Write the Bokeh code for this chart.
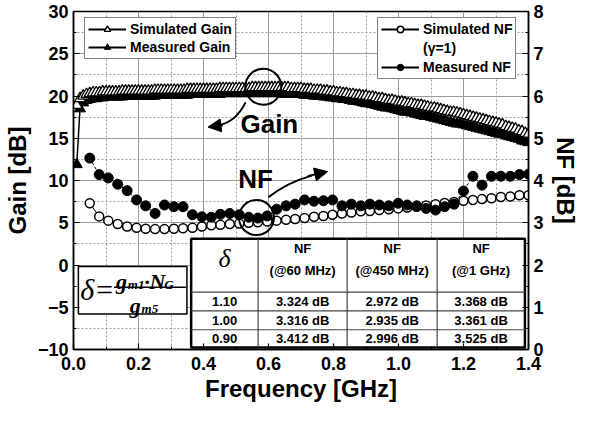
from bokeh.plotting import figure
from bokeh.models import (Range1d, LinearAxis, FixedTicker, SingleIntervalTicker, PrintfTickFormatter,
                          Legend, LegendItem, Arrow, NormalHead)
from bokeh.core.properties import value
from bokeh.embed import file_html
from bokeh.resources import INLINE

# ---------------- data ----------------
freq_gain = [0.01, 0.02, 0.03, 0.04, 0.05, 0.06, 0.07, 0.08, 0.09, 0.10,
             0.11, 0.12, 0.13, 0.14, 0.15, 0.16, 0.17, 0.18, 0.19, 0.20,
             0.21, 0.22, 0.23, 0.24, 0.25, 0.26, 0.27, 0.28, 0.29, 0.30,
             0.31, 0.32, 0.33, 0.34, 0.35, 0.36, 0.37, 0.38, 0.39, 0.40,
             0.41, 0.42, 0.43, 0.44, 0.45, 0.46, 0.47, 0.48, 0.49, 0.50,
             0.51, 0.52, 0.53, 0.54, 0.55, 0.56, 0.57, 0.58, 0.59, 0.60,
             0.61, 0.62, 0.63, 0.64, 0.65, 0.66, 0.67, 0.68, 0.69, 0.70,
             0.71, 0.72, 0.73, 0.74, 0.75, 0.76, 0.77, 0.78, 0.79, 0.80,
             0.81, 0.82, 0.83, 0.84, 0.85, 0.86, 0.87, 0.88, 0.89, 0.90,
             0.91, 0.92, 0.93, 0.94, 0.95, 0.96, 0.97, 0.98, 0.99, 1.00,
             1.01, 1.02, 1.03, 1.04, 1.05, 1.06, 1.07, 1.08, 1.09, 1.10,
             1.11, 1.12, 1.13, 1.14, 1.15, 1.16, 1.17, 1.18, 1.19, 1.20,
             1.21, 1.22, 1.23, 1.24, 1.25, 1.26, 1.27, 1.28, 1.29, 1.30,
             1.31, 1.32, 1.33, 1.34, 1.35, 1.36, 1.37, 1.38, 1.39, 1.40]
sim_gain = [18.9, 19.7, 20.0, 20.2, 20.3, 20.4, 20.4, 20.4, 20.5, 20.5,
            20.5, 20.5, 20.5, 20.5, 20.6, 20.6, 20.6, 20.6, 20.6, 20.6,
            20.6, 20.6, 20.6, 20.6, 20.7, 20.7, 20.7, 20.7, 20.7, 20.7,
            20.7, 20.7, 20.7, 20.7, 20.8, 20.8, 20.8, 20.8, 20.8, 20.8,
            20.8, 20.8, 20.8, 20.8, 20.9, 20.9, 20.9, 20.9, 20.9, 20.9,
            20.9, 20.9, 20.9, 20.9, 21.0, 21.0, 21.0, 21.0, 21.0, 21.0,
            21.0, 21.0, 21.0, 21.0, 21.0, 21.0, 20.9, 20.9, 20.9, 20.9,
            20.8, 20.8, 20.8, 20.7, 20.7, 20.7, 20.6, 20.6, 20.5, 20.5,
            20.4, 20.4, 20.3, 20.3, 20.2, 20.2, 20.1, 20.1, 20.0, 20.0,
            19.9, 19.9, 19.8, 19.7, 19.7, 19.6, 19.5, 19.5, 19.4, 19.3,
            19.3, 19.2, 19.1, 19.1, 19.0, 18.9, 18.9, 18.8, 18.7, 18.6,
            18.6, 18.5, 18.4, 18.3, 18.2, 18.1, 18.1, 18.0, 17.9, 17.8,
            17.7, 17.6, 17.5, 17.4, 17.3, 17.2, 17.1, 17.0, 16.9, 16.8,
            16.7, 16.6, 16.4, 16.3, 16.2, 16.1, 15.9, 15.8, 15.6, 15.5]
meas_gain = [11.9, 18.5, 19.2, 19.5, 19.6, 19.7, 19.7, 19.8, 19.8, 19.9,
             19.9, 19.9, 19.9, 19.9, 19.9, 20.0, 20.0, 20.0, 20.0, 20.0,
             20.0, 20.0, 20.0, 20.0, 20.0, 20.1, 20.1, 20.1, 20.1, 20.1,
             20.1, 20.1, 20.1, 20.1, 20.1, 20.2, 20.2, 20.2, 20.2, 20.2,
             20.2, 20.2, 20.2, 20.2, 20.2, 20.3, 20.3, 20.3, 20.3, 20.3,
             20.3, 20.3, 20.3, 20.3, 20.3, 20.3, 20.3, 20.3, 20.3, 20.3,
             20.3, 20.3, 20.3, 20.3, 20.2, 20.2, 20.2, 20.2, 20.2, 20.2,
             20.1, 20.1, 20.1, 20.0, 20.0, 20.0, 19.9, 19.9, 19.8, 19.8,
             19.7, 19.7, 19.6, 19.6, 19.5, 19.4, 19.4, 19.3, 19.2, 19.1,
             19.1, 19.0, 18.9, 18.8, 18.7, 18.6, 18.6, 18.5, 18.4, 18.3,
             18.2, 18.1, 18.1, 18.0, 17.9, 17.8, 17.7, 17.6, 17.6, 17.5,
             17.4, 17.3, 17.2, 17.1, 17.0, 16.9, 16.8, 16.7, 16.7, 16.6,
             16.5, 16.4, 16.3, 16.2, 16.1, 16.0, 15.9, 15.8, 15.7, 15.6,
             15.5, 15.5, 15.3, 15.2, 15.1, 15.0, 14.9, 14.7, 14.6, 14.5]

freq_nf = [0.050, 0.079, 0.107, 0.136, 0.165, 0.194, 0.222, 0.251, 0.280, 0.309,
           0.337, 0.366, 0.395, 0.424, 0.452, 0.481, 0.510, 0.539, 0.567, 0.596,
           0.625, 0.654, 0.682, 0.711, 0.740, 0.769, 0.797, 0.826, 0.855, 0.884,
           0.912, 0.941, 0.970, 0.999, 1.027, 1.056, 1.085, 1.114, 1.142, 1.171,
           1.200, 1.229, 1.257, 1.286, 1.315, 1.344, 1.372, 1.400]
sim_nf = [3.46, 3.15, 3.05, 2.97, 2.91, 2.88, 2.86, 2.85, 2.85, 2.86,
          2.87, 2.88, 2.91, 2.94, 2.95, 2.97, 2.98, 3.00, 3.01, 3.03,
          3.05, 3.07, 3.09, 3.11, 3.14, 3.16, 3.19, 3.22, 3.24, 3.27,
          3.28, 3.30, 3.32, 3.34, 3.36, 3.38, 3.41, 3.44, 3.47, 3.49,
          3.52, 3.54, 3.56, 3.58, 3.61, 3.62, 3.65, 3.65]
meas_nf = [4.53, 4.14, 4.06, 3.91, 3.76, 3.54, 3.40, 3.22, 3.42, 3.38,
           3.38, 3.19, 3.14, 3.13, 3.20, 3.22, 3.19, 3.13, 3.11, 3.16,
           3.32, 3.40, 3.44, 3.54, 3.51, 3.52, 3.54, 3.40, 3.44, 3.40,
           3.44, 3.42, 3.40, 3.46, 3.42, 3.40, 3.34, 3.30, 3.38, 3.44,
           3.75, 4.10, 3.89, 4.10, 4.10, 4.10, 4.14, 4.15]

x_ticks = [0.0, 0.2, 0.4, 0.6, 0.8, 1.0, 1.2, 1.4]
x_minor = [0.1, 0.3, 0.5, 0.7, 0.9, 1.1, 1.3]

table_delta = ["1.10", "1.00", "0.90"]
table_head = ["(@60 MHz)", "(@450 MHz)", "(@1 GHz)"]
table_nf60 = ["3.324 dB", "3.316 dB", "3.412 dB"]
table_nf450 = ["2.972 dB", "2.935 dB", "2.996 dB"]
table_nf1g = ["3.368 dB", "3.361 dB", "3.525 dB"]

SANS = value("Liberation Sans")
SERIF = value("Liberation Serif")

# ---------------- figure ----------------
p = figure(width=581, height=405, x_range=Range1d(0, 1.4), y_range=Range1d(-10, 30),
           output_backend="svg", toolbar_location=None,
           min_border_left=73, min_border_right=48, min_border_top=11, min_border_bottom=56)
p.extra_y_ranges = {"nf": Range1d(0, 8)}

p.outline_line_color = "black"
p.outline_line_width = 1.5
p.background_fill_color = "white"

p.xaxis.ticker = FixedTicker(ticks=x_ticks, minor_ticks=x_minor)
p.xaxis.formatter = PrintfTickFormatter(format="%.1f")
p.yaxis.ticker = SingleIntervalTicker(interval=5, num_minor_ticks=2)
p.xaxis.axis_label = "Frequency [GHz]"
p.yaxis.axis_label = "Gain [dB]"

nf_axis = LinearAxis(y_range_name="nf", axis_label="NF [dB]",
                     ticker=SingleIntervalTicker(interval=1, num_minor_ticks=2))
p.add_layout(nf_axis, "right")

for ax in [p.xaxis[0], p.yaxis[0], nf_axis]:
    ax.axis_line_width = 1.5
    ax.axis_line_color = "black"
    ax.major_tick_in = 6
    ax.major_tick_out = 0
    ax.minor_tick_in = 3
    ax.minor_tick_out = 0
    ax.major_tick_line_width = 1.2
    ax.major_label_text_font = "Liberation Sans"
    ax.major_label_text_font_style = "bold"
    ax.major_label_text_font_size = "18px"
    ax.major_label_text_color = "black"
    ax.axis_label_text_font = "Liberation Sans"
    ax.axis_label_text_font_style = "bold"
    ax.axis_label_text_font_size = "24px"
    ax.axis_label_text_color = "black"
    ax.major_label_standoff = 5
    ax.axis_label_standoff = 4
p.xaxis.major_label_standoff = 7
p.xaxis.axis_label_standoff = 2
nf_axis.axis_label_standoff = 5

for g in [p.xgrid[0], p.ygrid[0]]:
    g.grid_line_color = "#9a9a9a"
    g.grid_line_width = 1
    g.minor_grid_line_color = "#9a9a9a"
    g.minor_grid_line_dash = "2 2"

# ---------------- data glyphs ----------------
p.line(freq_gain, meas_gain, line_color="black", line_width=1.5)
mg_pts = p.scatter(freq_gain, meas_gain, marker="triangle", size=11,
                   fill_color="black", line_color="black")
p.line(freq_gain, sim_gain, line_color="black", line_width=1.5)
sg_pts = p.scatter(freq_gain, sim_gain, marker="triangle", size=11,
                   fill_color="white", line_color="black", line_width=1.3)

p.line(freq_nf, sim_nf, y_range_name="nf", line_color="black", line_width=1)
sn_pts = p.scatter(freq_nf, sim_nf, y_range_name="nf", marker="circle", size=9,
                   fill_color="white", line_color="black", line_width=1.5)
p.line(freq_nf, meas_nf, y_range_name="nf", line_color="black", line_width=1,
       line_dash="3 2")
mn_pts = p.scatter(freq_nf, meas_nf, y_range_name="nf", marker="circle", size=10,
                   fill_color="black", line_color="black")

# single-point lines: draw nothing in the plot, give a solid line sample in the legends
lg_line = p.line(freq_nf[:1], sim_nf[:1], y_range_name="nf", line_color="black", line_width=2)
lg_blank = p.line(freq_nf[:1], sim_nf[:1], y_range_name="nf", line_alpha=0)

# ---------------- legends ----------------
def style_legend(lg):
    lg.label_text_font = "Liberation Sans"
    lg.label_text_font_style = "bold"
    lg.label_text_font_size = "14px"
    lg.label_text_color = "black"
    lg.glyph_width = 38
    lg.glyph_height = 16
    lg.label_height = 16
    lg.label_standoff = 4
    lg.padding = 3
    lg.spacing = 2
    lg.margin = 0
    lg.border_line_color = "black"
    lg.border_line_width = 1
    lg.background_fill_alpha = 1

leg1 = Legend(items=[LegendItem(label="Simulated Gain", renderers=[lg_line, sg_pts]),
                     LegendItem(label="Measured Gain", renderers=[lg_line, mg_pts])],
              location=(11, 290))
style_legend(leg1)
p.add_layout(leg1)

leg2 = Legend(items=[LegendItem(label="Simulated NF", renderers=[lg_line, sn_pts]),
                     LegendItem(label="(\u03b3=1)", renderers=[lg_blank]),
                     LegendItem(label="Measured NF", renderers=[lg_line, mn_pts])],
              location=(304, 270))
style_legend(leg2)
leg2.spacing = 3
p.add_layout(leg2)

# ---------------- annotations: circles, arrows, labels ----------------
p.scatter([0.584], [21.1], marker="circle", size=36, fill_alpha=0,
          line_color="black", line_width=2)
p.scatter([0.563], [5.61], marker="circle", size=35, fill_alpha=0,
          line_color="black", line_width=2)

p.quadratic(x0=[0.5295], y0=[19.24], x1=[0.447], y1=[16.55], cx=[0.499], cy=[16.90],
            line_color="black", line_width=2)
p.add_layout(Arrow(end=NormalHead(size=13, fill_color="black", line_color="black"),
                   x_start=0.4595, y_start=16.55, x_end=0.414, y_end=16.32,
                   line_width=2, line_color="black"))
p.quadratic(x0=[0.5995], y0=[8.01], x1=[0.733], y1=[10.58], cx=[0.657], cy=[9.77],
            line_color="black", line_width=2)
p.add_layout(Arrow(end=NormalHead(size=13, fill_color="black", line_color="black"),
                   x_start=0.721, y_start=10.53, x_end=0.782, y_end=11.05,
                   line_width=2, line_color="black"))

p.text([0.6026], [16.67], text=["Gain"], text_font=SANS, text_font_style="bold",
       text_font_size="26px", text_align="center", text_baseline="middle", text_color="black")
p.text([0.56], [10.23], text=["NF"], text_font=SANS, text_font_style="bold",
       text_font_size="26px", text_align="center", text_baseline="middle", text_color="black")

# ---------------- formula box ----------------
p.quad(left=[0.015], right=[0.349], top=[-0.18], bottom=[-5.79], fill_color="white",
       line_color="black", line_width=1.5)
p.text([0.021], [-2.87], text=["\u03b4="], text_font=SERIF, text_font_style="italic",
       text_font_size="30px", text_align="left", text_baseline="middle", text_color="black")
p.text([0.1307], [-1.93], text=["g"], text_font=SERIF, text_font_style="bold italic",
       text_font_size="22px", text_align="left", text_baseline="alphabetic", text_color="black")
p.text([0.167], [-2.28], text=["m1"], text_font=SERIF, text_font_style="bold italic",
       text_font_size="13px", text_align="left", text_baseline="alphabetic", text_color="black")
p.text([0.2157], [-1.93], text=["\u00b7"], text_font=SERIF, text_font_style="bold",
       text_font_size="22px", text_align="left", text_baseline="alphabetic", text_color="black")
p.text([0.234], [-1.93], text=["N"], text_font=SERIF, text_font_style="bold italic",
       text_font_size="22px", text_align="left", text_baseline="alphabetic", text_color="black")
p.text([0.279], [-2.28], text=["G"], text_font=SERIF, text_font_style="bold italic",
       text_font_size="13px", text_align="left", text_baseline="alphabetic", text_color="black")
p.segment(x0=[0.1245], y0=[-2.63], x1=[0.346], y1=[-2.63], line_color="black", line_width=1.5)
p.text([0.173], [-4.85], text=["g"], text_font=SERIF, text_font_style="bold italic",
       text_font_size="22px", text_align="left", text_baseline="alphabetic", text_color="black")
p.text([0.2096], [-5.2], text=["m5"], text_font=SERIF, text_font_style="bold italic",
       text_font_size="13px", text_align="left", text_baseline="alphabetic", text_color="black")

# ---------------- table ----------------
tx = [0.362, 0.568, 0.842, 1.119, 1.389]
ty = [3.10, -3.22, -5.44, -7.66, -9.77]
p.quad(left=[tx[0]], right=[tx[-1]], top=[ty[0]], bottom=[ty[-1]], fill_color="white",
       line_color="black", line_width=2.5)
p.segment(x0=tx[1:4], y0=[ty[0]] * 3, x1=tx[1:4], y1=[ty[-1]] * 3,
          line_color="#444444", line_width=1.2)
p.segment(x0=[tx[0]] * 3, y0=ty[1:4], x1=[tx[-1]] * 3, y1=ty[1:4],
          line_color="#444444", line_width=1.2)
cx = [(tx[i] + tx[i + 1]) / 2 for i in range(4)]
row_y = [(ty[i] + ty[i + 1]) / 2 for i in range(1, 4)]
p.text([cx[0]], [0.75], text=["\u03b4"], text_font=SERIF, text_font_style="italic",
       text_font_size="26px", text_align="center", text_baseline="middle", text_color="black")
p.text(cx[1:], [1.9] * 3, text=["NF"] * 3, text_font=SANS, text_font_style="bold",
       text_font_size="13px", text_align="center", text_baseline="middle", text_color="black")
p.text(cx[1:], [-0.67] * 3, text=table_head, text_font=SANS, text_font_style="bold",
       text_font_size="13px", text_align="center", text_baseline="middle", text_color="black")
for col, vals in zip(cx, [table_delta, table_nf60, table_nf450, table_nf1g]):
    p.text([col] * 3, row_y, text=vals, text_font=SANS, text_font_style="bold",
           text_font_size="13px", text_align="center", text_baseline="middle",
           text_color="black")

open("out.html", "w").write(file_html(p, INLINE))
